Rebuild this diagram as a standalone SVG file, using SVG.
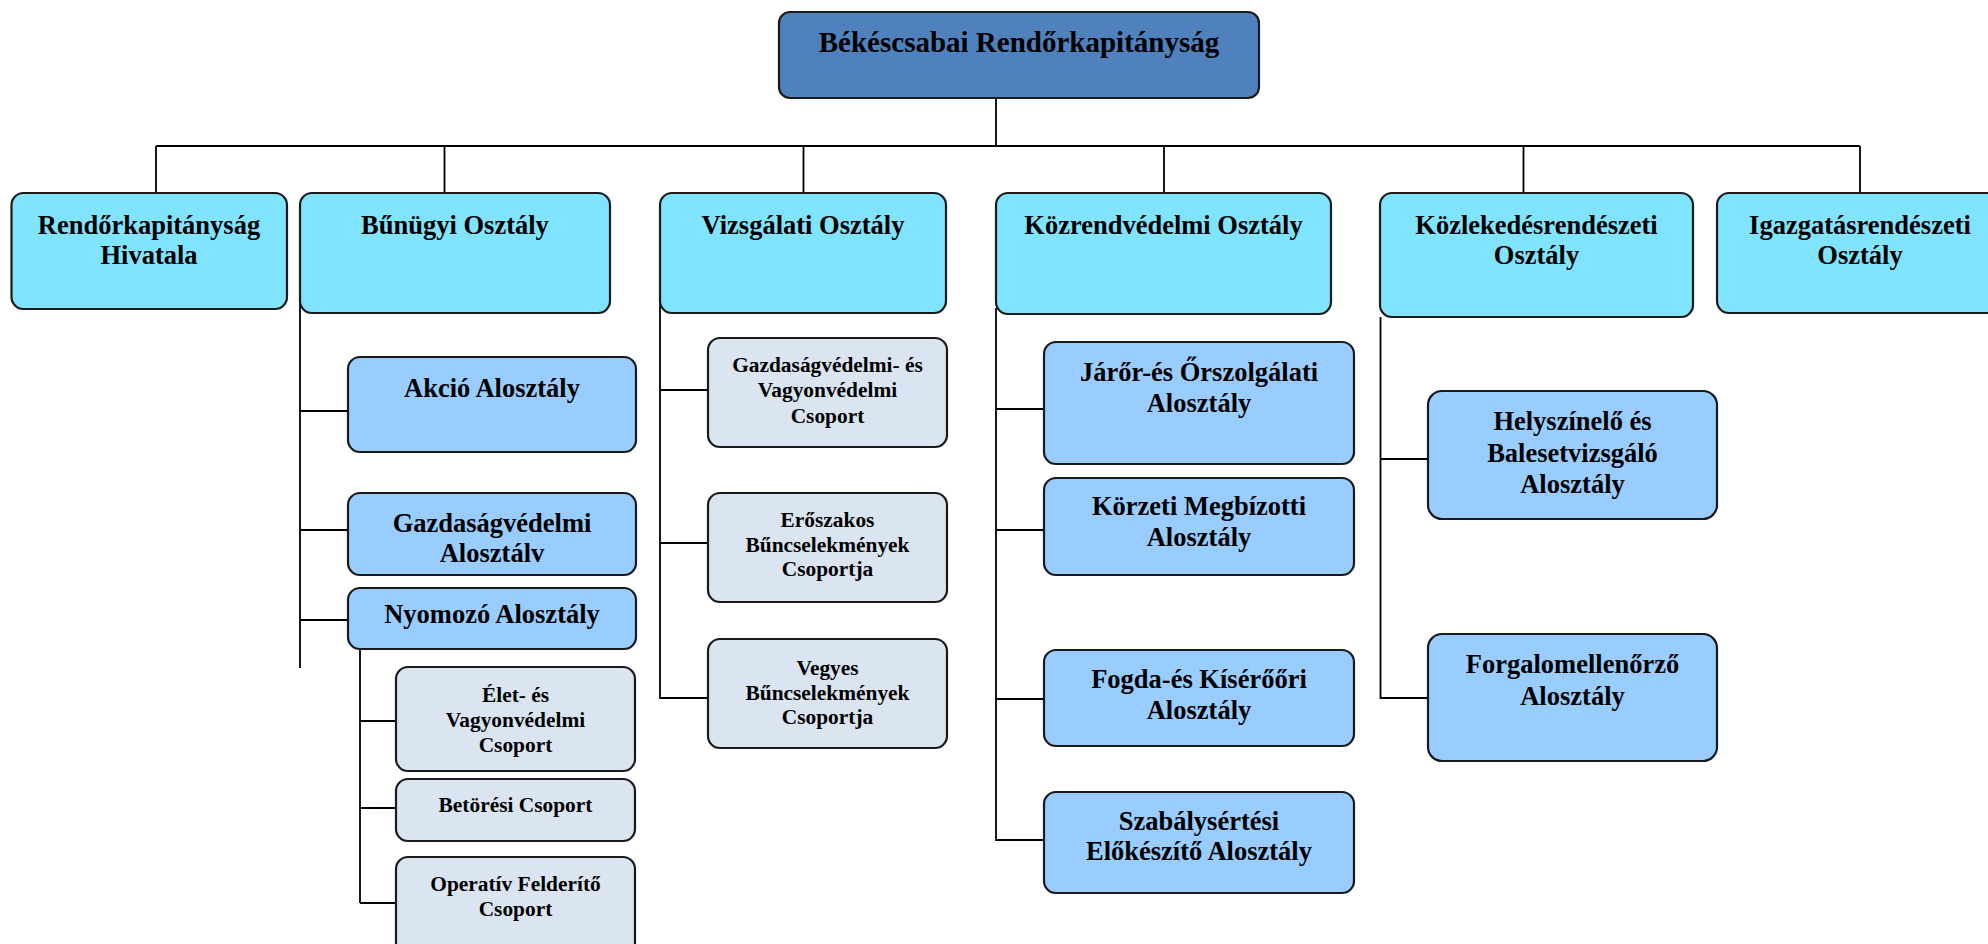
<svg xmlns="http://www.w3.org/2000/svg" width="1988" height="944" viewBox="0 0 1988 944">
<style>
.bx{stroke:#1a1a1a;stroke-width:2.2}
.top{fill:#4F81BD}
.l2{fill:#80E4FE}
.l3{fill:#99CCFF}
.gr{fill:#DBE5F1}
.c{fill:none;stroke:#000;stroke-width:1.8}
text{font-family:"Liberation Serif","Times New Roman",serif;font-weight:bold;fill:#000;text-anchor:middle}
.t0{font-size:29px}
.t2{font-size:26.5px}
.t3{font-size:21.4px}
</style>
<rect width="1988" height="944" fill="#fff"/>
<g id="connectors">
<path class="c" d="M996 98V146M156 146H1860M156 146V193M444.5 146V193M803.5 146V193M1164 146V193M1523.5 146V193M1860 146V193"/>
<path class="c" d="M300 253V668M300 411H348M300 530H348M300 620H348"/>
<path class="c" d="M360 649V903M360 721H396M360 808H396M360 903H396"/>
<path class="c" d="M660 290V698H708M660 390H708M660 543H708"/>
<path class="c" d="M996 308V840H1044M996 409H1044M996 530H1044M996 699H1044"/>
<path class="c" d="M1380.5 317V698H1428M1380.5 459H1428"/>
</g>
<g id="n-top"><rect class="bx top" x="779" y="12" width="480" height="86" rx="11"/><text class="t0" x="1019" y="52">Békéscsabai Rendőrkapitányság</text></g>
<g id="n-hivatal"><rect class="bx l2" x="11.5" y="193" width="275.5" height="116" rx="12"/><text class="t2" x="149" y="234">Rendőrkapitányság</text><text class="t2" x="149" y="264">Hivatala</text></g>
<g id="n-bunugyi"><rect class="bx l2" x="300" y="193" width="310" height="120" rx="12"/><text class="t2" x="455" y="234">Bűnügyi Osztály</text></g>
<g id="n-vizsgalati"><rect class="bx l2" x="660" y="193" width="286" height="120" rx="12"/><text class="t2" x="803" y="234">Vizsgálati Osztály</text></g>
<g id="n-kozrend"><rect class="bx l2" x="996" y="193" width="335" height="121" rx="12"/><text class="t2" x="1163.5" y="234">Közrendvédelmi Osztály</text></g>
<g id="n-kozlekedes"><rect class="bx l2" x="1380" y="193" width="313" height="124" rx="12"/><text class="t2" x="1536.5" y="234">Közlekedésrendészeti</text><text class="t2" x="1536.5" y="264">Osztály</text></g>
<g id="n-igazgatas"><rect class="bx l2" x="1717" y="193" width="290" height="120" rx="12"/><text class="t2" x="1860" y="234">Igazgatásrendészeti</text><text class="t2" x="1860" y="264">Osztály</text></g>

<g id="n-akcio"><rect class="bx l3" x="348" y="357" width="288" height="95" rx="12"/><text class="t2" x="492" y="397">Akció Alosztály</text></g>
<g id="n-gazd"><rect class="bx l3" x="348" y="493" width="288" height="82" rx="12"/><text class="t2" x="492" y="532">Gazdaságvédelmi</text><text class="t2" x="492" y="562">Alosztálv</text></g>
<g id="n-nyomozo"><rect class="bx l3" x="348" y="588" width="288" height="61" rx="12"/><text class="t2" x="492" y="623">Nyomozó Alosztály</text></g>
<g id="n-elet"><rect class="bx gr" x="396" y="667" width="239" height="104" rx="12"/><text class="t3" x="515.5" y="702">Élet- és</text><text class="t3" x="515.5" y="727">Vagyonvédelmi</text><text class="t3" x="515.5" y="752">Csoport</text></g>
<g id="n-betoresi"><rect class="bx gr" x="396" y="779" width="239" height="62" rx="12"/><text class="t3" x="515.5" y="812">Betörési Csoport</text></g>
<g id="n-operativ"><rect class="bx gr" x="396" y="857" width="239" height="104" rx="12"/><text class="t3" x="515.5" y="891">Operatív Felderítő</text><text class="t3" x="515.5" y="916">Csoport</text></g>

<g id="n-gvcs"><rect class="bx gr" x="708" y="338" width="239" height="109" rx="12"/><text class="t3" x="827.5" y="372">Gazdaságvédelmi- és</text><text class="t3" x="827.5" y="397">Vagyonvédelmi</text><text class="t3" x="827.5" y="423">Csoport</text></g>
<g id="n-eroszakos"><rect class="bx gr" x="708" y="493" width="239" height="109" rx="12"/><text class="t3" x="827.5" y="527">Erőszakos</text><text class="t3" x="827.5" y="552">Bűncselekmények</text><text class="t3" x="827.5" y="576">Csoportja</text></g>
<g id="n-vegyes"><rect class="bx gr" x="708" y="639" width="239" height="109" rx="12"/><text class="t3" x="827.5" y="675">Vegyes</text><text class="t3" x="827.5" y="700">Bűncselekmények</text><text class="t3" x="827.5" y="724">Csoportja</text></g>

<g id="n-jaror"><rect class="bx l3" x="1044" y="342" width="310" height="122" rx="12"/><text class="t2" x="1199" y="381">Járőr-és Őrszolgálati</text><text class="t2" x="1199" y="412">Alosztály</text></g>
<g id="n-korzeti"><rect class="bx l3" x="1044" y="478" width="310" height="97" rx="12"/><text class="t2" x="1199" y="515">Körzeti Megbízotti</text><text class="t2" x="1199" y="546">Alosztály</text></g>
<g id="n-fogda"><rect class="bx l3" x="1044" y="650" width="310" height="96" rx="12"/><text class="t2" x="1199" y="688">Fogda-és Kísérőőri</text><text class="t2" x="1199" y="719">Alosztály</text></g>
<g id="n-szabaly"><rect class="bx l3" x="1044" y="792" width="310" height="101" rx="12"/><text class="t2" x="1199" y="830">Szabálysértési</text><text class="t2" x="1199" y="860">Előkészítő Alosztály</text></g>

<g id="n-helyszin"><rect class="bx l3" x="1428" y="391" width="289" height="128" rx="14"/><text class="t2" x="1572.5" y="430">Helyszínelő és</text><text class="t2" x="1572.5" y="462">Balesetvizsgáló</text><text class="t2" x="1572.5" y="493">Alosztály</text></g>
<g id="n-forgalom"><rect class="bx l3" x="1428" y="634" width="289" height="127" rx="14"/><text class="t2" x="1572.5" y="673">Forgalomellenőrző</text><text class="t2" x="1572.5" y="705">Alosztály</text></g>
</svg>
